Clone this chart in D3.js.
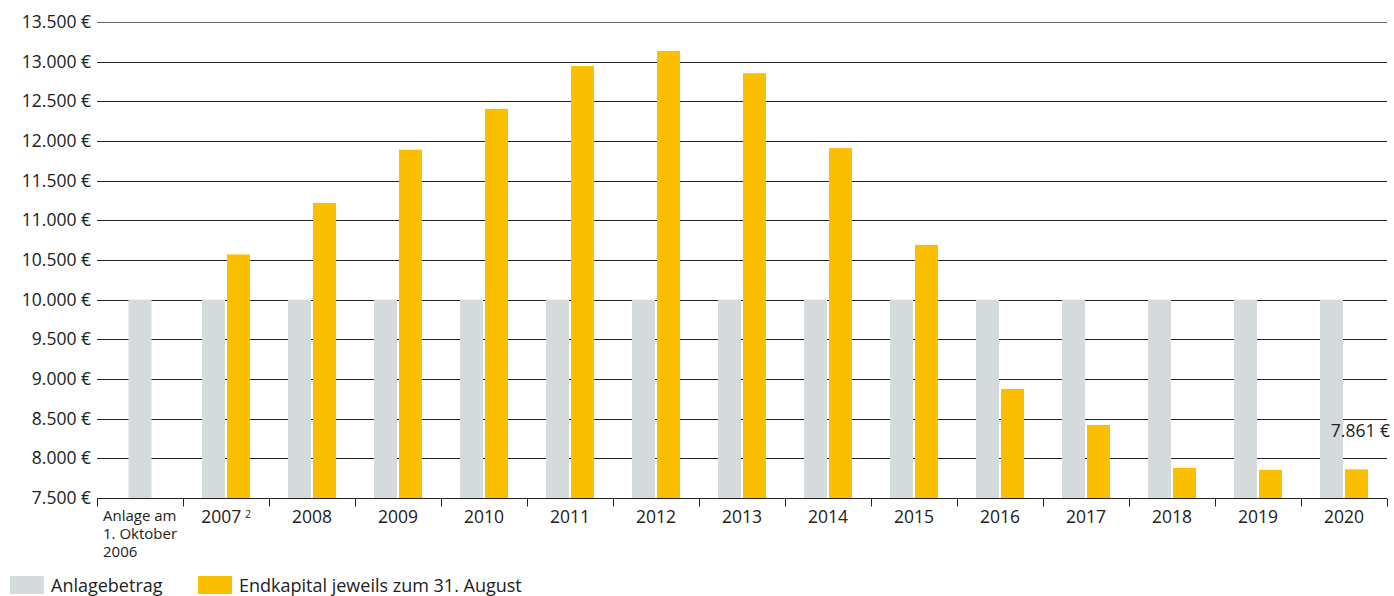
<!DOCTYPE html>
<html>
<head>
<meta charset="utf-8">
<script src="https://cdn.jsdelivr.net/npm/d3@7"></script>
<style>
  body { margin: 0; background: #fff; }
  text { font-family: "Open Sans", "Lato", sans-serif; fill: #222; }
</style>
</head>
<body>
<main></main>
<script>
var categories = ["start", "2007", "2008", "2009", "2010", "2011", "2012", "2013", "2014", "2015", "2016", "2017", "2018", "2019", "2020"];
var anlage    = [10000, 10000, 10000, 10000, 10000, 10000, 10000, 10000, 10000, 10000, 10000, 10000, 10000, 10000, 10000];
var endkapital = [null, 10570, 11220, 11890, 12405, 12945, 13135, 12855, 11910, 10690, 8875, 8420, 7880, 7855, 7861];
var yTicks = [7500, 8000, 8500, 9000, 9500, 10000, 10500, 11000, 11500, 12000, 12500, 13000, 13500];

var width = 1394, height = 596;
var margin = {left: 97, right: 7, top: 22, bottom: 98};

var svg = d3.select("main")
  .append("svg")
    .attr("width", width)
    .attr("height", height);

var x = d3.scaleBand()
  .domain(categories)
  .range([margin.left, width - margin.right]);

var y = d3.scaleLinear()
  .domain([7500, 13500])
  .range([height - margin.bottom, margin.top]);

var fmt = function(v) { return d3.format(",")(v).replace(/,/g, ".") + " €"; };

// gridlines
svg.append("g")
  .selectAll("line")
  .data(yTicks.slice(1))
  .enter().append("line")
    .attr("x1", margin.left)
    .attr("x2", width - margin.right)
    .attr("y1", function(d) { return Math.round(y(d)) + 0.5; })
    .attr("y2", function(d) { return Math.round(y(d)) + 0.5; })
    .attr("stroke", function(d) { return d === 13500 ? "#666" : "#222"; })
    .attr("stroke-width", 1);

// y labels
svg.append("g")
  .selectAll("text")
  .data(yTicks)
  .enter().append("text")
    .attr("x", 91)
    .attr("y", function(d) { return y(d); })
    .attr("dy", "0.35em")
    .attr("text-anchor", "end")
    .style("font-size", "17.5px")
    .text(fmt);

var barW = 23, gap = 2;

// grey bars
svg.append("g")
  .selectAll("rect")
  .data(categories)
  .enter().append("rect")
    .attr("x", function(d, i) {
      var c = x(d) + x.bandwidth() / 2;
      return i === 0 ? c - barW / 2 : c - barW - gap / 2;
    })
    .attr("y", function(d, i) { return y(anlage[i]); })
    .attr("width", barW)
    .attr("height", function(d, i) { return y(7500) - y(anlage[i]); })
    .attr("fill", "#d5dadd");

// gold bars
svg.append("g")
  .selectAll("rect")
  .data(categories.filter(function(d, i) { return endkapital[i] !== null; }))
  .enter().append("rect")
    .attr("x", function(d) { return x(d) + x.bandwidth() / 2 + gap / 2; })
    .attr("y", function(d) { return y(endkapital[categories.indexOf(d)]); })
    .attr("width", barW)
    .attr("height", function(d) { return y(7500) - y(endkapital[categories.indexOf(d)]); })
    .attr("fill", "#fbbf00");

// x axis
var xAxis = svg.append("g")
  .attr("transform", "translate(0," + (Math.round(y(7500)) + 0.5) + ")");
xAxis.append("line")
  .attr("x1", margin.left)
  .attr("x2", width - margin.right)
  .attr("stroke", "#222");
var tickPos = categories.map(function(d) { return x(d); }).concat([x(categories[categories.length - 1]) + x.bandwidth()]);
xAxis.selectAll(".tick")
  .data(tickPos)
  .enter().append("line")
    .attr("x1", function(d) { return Math.round(d) + 0.5; })
    .attr("x2", function(d) { return Math.round(d) + 0.5; })
    .attr("y1", 0)
    .attr("y2", 8)
    .attr("stroke", "#222");

categories.forEach(function(d, i) {
  if (i === 0) {
    var t = svg.append("text")
      .attr("x", x(d) + 6)
      .attr("y", 521)
      .style("font-size", "15px");
    ["Anlage am", "1. Oktober", "2006"].forEach(function(s, k) {
      t.append("tspan").attr("x", x(d) + 6).attr("dy", k === 0 ? 0 : 18).text(s);
    });
  } else {
    var t2 = svg.append("text")
      .attr("x", x(d) + x.bandwidth() / 2)
      .attr("y", 523)
      .attr("text-anchor", "middle")
      .style("font-size", "17.5px")
      .text(d);
    if (d === "2007") {
      t2.append("tspan").attr("dx", 4).attr("dy", -5).style("font-size", "10px").text("2");
    }
  }
});

// value label
svg.append("text")
  .attr("x", 1390)
  .attr("y", y(7861) - 32)
  .attr("text-anchor", "end")
  .style("font-size", "17.5px")
  .text(fmt(endkapital[endkapital.length - 1]));

// legend
var legend = [["Anlagebetrag", "#d5dadd", 10], ["Endkapital jeweils zum 31. August", "#fbbf00", 198]];
legend.forEach(function(l) {
  svg.append("rect")
    .attr("x", l[2]).attr("y", 576)
    .attr("width", 34).attr("height", 18)
    .attr("fill", l[1]);
  svg.append("text")
    .attr("x", l[2] + 41).attr("y", 592)
    .style("font-size", "18px")
    .text(l[0]);
});
</script>
</body>
</html>
